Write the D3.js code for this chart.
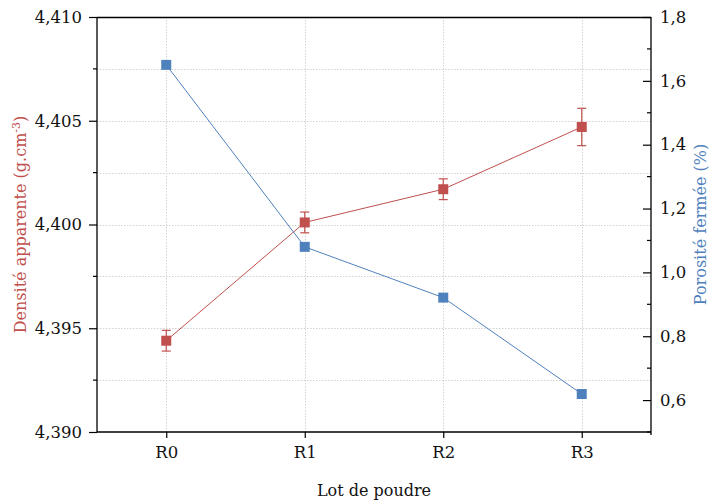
<!DOCTYPE html>
<html><head><meta charset="utf-8">
<script src="https://cdn.jsdelivr.net/npm/d3@7"></script>
<style>body{margin:0;background:#fff}svg{display:block}</style>
</head><body>
<svg id="c" width="710" height="502"></svg>
<script>
const categories = ["R0","R1","R2","R3"];
const densite = [4.3944, 4.4001, 4.4017, 4.4047];
const densiteErr = [0.0005, 0.0005, 0.0005, 0.0009];
const porosite = [1.650, 1.080, 0.921, 0.619];
const leftTicks = [4.390, 4.395, 4.400, 4.405, 4.410];
const rightTicks = [0.6, 0.8, 1.0, 1.2, 1.4, 1.6, 1.8];

const RED = "#C0504D", BLUE = "#4F81BD";
const FONT = "'DejaVu Serif', serif";
const svg = d3.select("#c");
const L = 97, R = 651, T = 17, B = 432;

const x = d3.scaleLinear().domain([-0.5, 3.5]).range([L, R]);
const yL = d3.scaleLinear().domain([4.390, 4.410]).range([B, T]);
const yR = d3.scaleLinear().domain([0.5, 1.8]).range([B, T]);
const fmtL = v => d3.format(".3f")(v).replace(".", ",");
const fmtR = v => d3.format(".1f")(v).replace(".", ",");

// grid
const gridVals = d3.range(4.390, 4.4101, 0.0025).filter(v => v > 4.3901 && v < 4.4099);
svg.append("g").selectAll("line").data(gridVals).join("line")
  .attr("x1", L).attr("x2", R).attr("y1", d => Math.round(yL(d)) + 0.5).attr("y2", d => Math.round(yL(d)) + 0.5)
  .attr("stroke", "#d2d2d2").attr("stroke-width", 1).attr("stroke-dasharray", "1.5,1.5");
svg.append("g").selectAll("line").data(categories).join("line")
  .attr("x1", (d, i) => Math.round(x(i)) + 0.5).attr("x2", (d, i) => Math.round(x(i)) + 0.5)
  .attr("y1", T).attr("y2", B)
  .attr("stroke", "#d2d2d2").attr("stroke-width", 1).attr("stroke-dasharray", "1.5,1.5");

// frame
svg.append("line").attr("x1", L).attr("x2", R).attr("y1", T + 0.5).attr("y2", T + 0.5).attr("stroke", "#000").attr("stroke-width", 1.3);

// left axis
const gL = svg.append("g").attr("transform", `translate(${L},0)`)
  .call(d3.axisLeft(yL).tickValues(leftTicks).tickFormat(fmtL).tickSize(8).tickPadding(7));
const minorL = d3.range(4.3925, 4.410, 0.005);
gL.append("g").selectAll("line").data(minorL).join("line")
  .attr("x1", -4).attr("x2", 0).attr("y1", d => yL(d)).attr("y2", d => yL(d)).attr("stroke", "#000");
// right axis (inward ticks)
const gR = svg.append("g").attr("transform", `translate(${R},0)`)
  .call(d3.axisRight(yR).tickValues(rightTicks).tickFormat(fmtR).tickSize(0).tickPadding(10));
gR.selectAll(".tick line").attr("x1", -8).attr("x2", 0);
const minorR = d3.range(0.5, 1.8, 0.2);
gR.append("g").selectAll("line").data(minorR).join("line")
  .attr("x1", -4).attr("x2", 0).attr("y1", d => yR(d)).attr("y2", d => yR(d)).attr("stroke", "#000");
// bottom axis
const gB = svg.append("g").attr("transform", `translate(0,${B})`)
  .call(d3.axisBottom(x).tickValues([0,1,2,3]).tickFormat(i => categories[i]).tickSize(6).tickPadding(8));

[gL, gR, gB].forEach(g => {
  g.select(".domain").attr("stroke", "#000").attr("stroke-width", 1.3);
  g.selectAll("line").attr("stroke", "#000").attr("stroke-width", 1.2);
  g.selectAll("text").attr("font-family", FONT).attr("font-size", 16.5).attr("fill", "#111");
});
gL.select(".domain").attr("d", `M0,${T}V${B}`);
gR.select(".domain").attr("d", `M0,${T}V${B + 3}`);
gB.select(".domain").attr("d", `M${L},0H${R}`);
gR.selectAll(".tick text").attr("x", 9);

// lines
const lineRed = d3.line().x((d, i) => x(i)).y(d => yL(d));
const lineBlue = d3.line().x((d, i) => x(i)).y(d => yR(d));
svg.append("path").attr("d", lineRed(densite)).attr("fill", "none").attr("stroke", RED).attr("stroke-width", 1);
svg.append("path").attr("d", lineBlue(porosite)).attr("fill", "none").attr("stroke", BLUE).attr("stroke-width", 1);

// error bars
const eb = svg.append("g").attr("stroke", RED).attr("stroke-width", 1.2);
densite.forEach((v, i) => {
  const cx = x(i), y1 = yL(v - densiteErr[i]), y2 = yL(v + densiteErr[i]);
  eb.append("line").attr("x1", cx).attr("x2", cx).attr("y1", y1).attr("y2", y2);
  eb.append("line").attr("x1", cx - 4.5).attr("x2", cx + 4.5).attr("y1", y1).attr("y2", y1);
  eb.append("line").attr("x1", cx - 4.5).attr("x2", cx + 4.5).attr("y1", y2).attr("y2", y2);
});

// markers
const S = 10;
svg.append("g").selectAll("rect").data(densite).join("rect")
  .attr("x", (d, i) => x(i) - S / 2).attr("y", d => yL(d) - S / 2).attr("width", S).attr("height", S).attr("fill", RED);
svg.append("g").selectAll("rect").data(porosite).join("rect")
  .attr("x", (d, i) => x(i) - S / 2).attr("y", d => yR(d) - S / 2).attr("width", S).attr("height", S).attr("fill", BLUE);

// axis titles
svg.append("text").attr("x", (L + R) / 2).attr("y", 496).attr("text-anchor", "middle")
  .attr("font-family", FONT).attr("font-size", 16).attr("fill", "#111").text("Lot de poudre");
const tl = svg.append("text").attr("transform", `translate(26,${(T + B) / 2}) rotate(-90)`).attr("text-anchor", "middle")
  .attr("font-family", FONT).attr("font-size", 16).attr("fill", RED);
tl.append("tspan").text("Densité apparente (g.cm");
tl.append("tspan").attr("dy", -6).attr("font-size", 11).text("-3");
tl.append("tspan").attr("dy", 6).text(")");
svg.append("text").attr("transform", `translate(706,${(T + B) / 2}) rotate(-90)`).attr("text-anchor", "middle")
  .attr("font-family", FONT).attr("font-size", 16).attr("fill", BLUE).text("Porosité fermée (%)");
</script>
</body></html>
